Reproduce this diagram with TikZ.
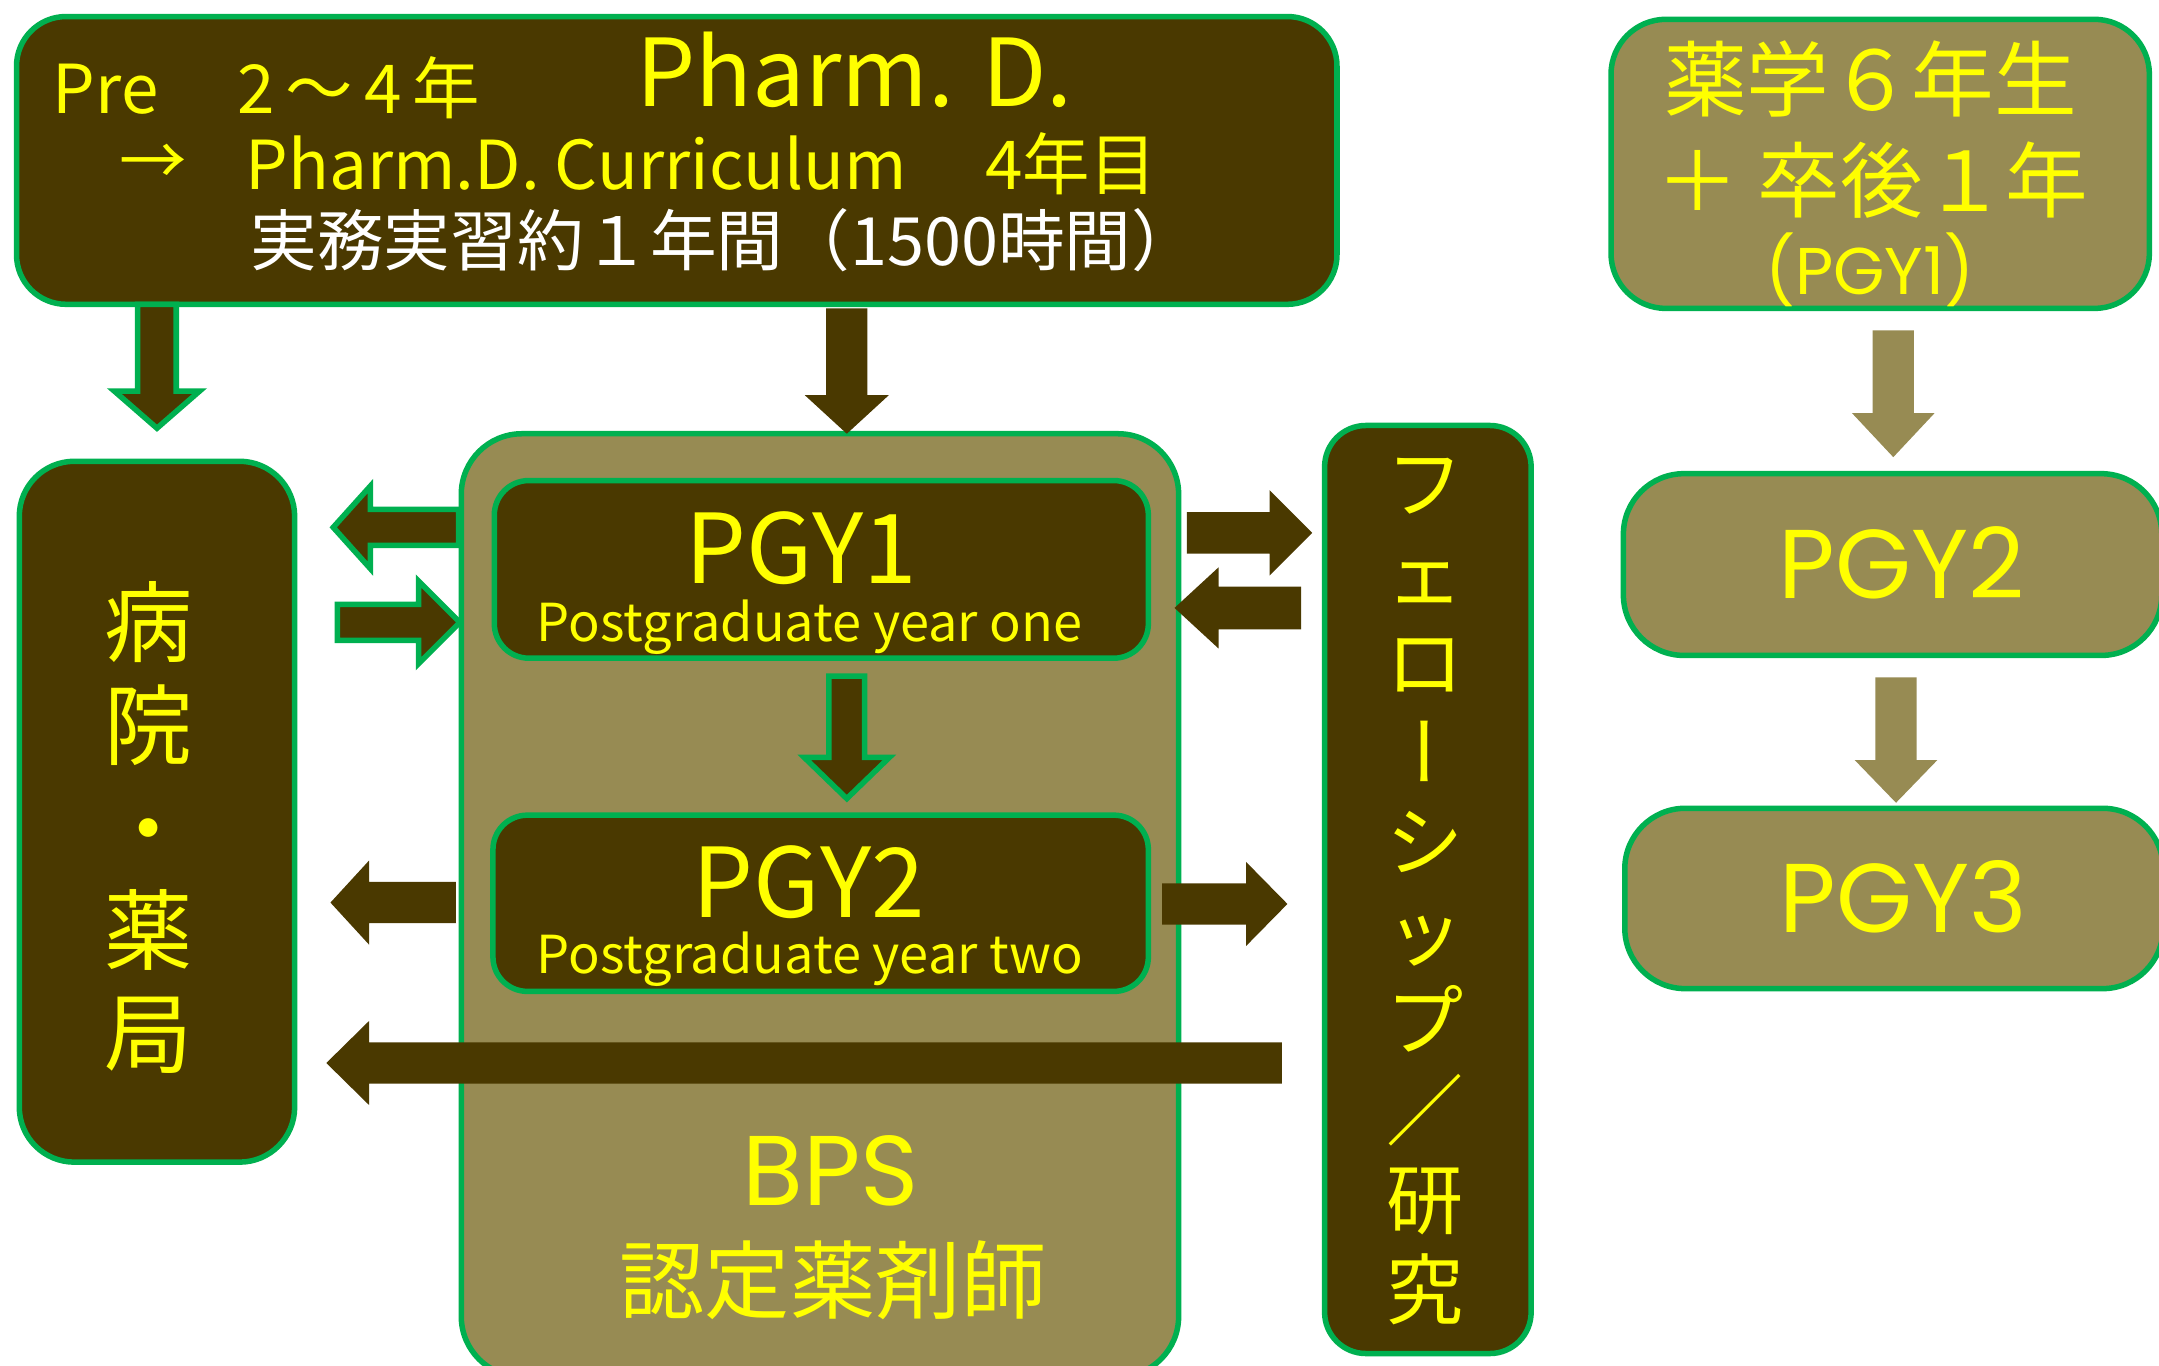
\documentclass[tikz,border=0pt]{standalone}
\usepackage{fontspec}
\setmainfont{Noto Sans CJK JP}
\newfontfamily\geo{Poppins}
\newfontfamily\vfont[RawFeature=+vert]{Noto Sans CJK JP}
\usetikzlibrary{calc}
\definecolor{dk}{HTML}{4A3900}
\definecolor{ol}{HTML}{978B53}
\definecolor{gr}{HTML}{00B050}
\definecolor{ye}{HTML}{FFFF00}
\newcommand\blockarrow[6]{%
  \coordinate (#2n) at ($(#3)!#6!(#2)$);
  \path[#1] ($(#2)!#4!90:(#3)$) -- ($(#2n)!#4!90:(#3)$) -- ($(#2n)!#5!90:(#3)$) -- (#3)
    -- ($(#2n)!#5!-90:(#3)$) -- ($(#2n)!#4!-90:(#3)$) -- ($(#2)!#4!-90:(#3)$) -- cycle;}
\tikzset{
  dkbox/.style={draw=gr, line width=2pt, fill=dk, inner sep=0pt},
  olbox/.style={draw=gr, line width=2pt, fill=ol, inner sep=0pt},
  txt/.style={text=ye, inner sep=0pt},
  arrB/.style={fill=dk, draw=gr, line width=2pt, line join=miter},
  arrD/.style={fill=dk},
  arrO/.style={fill=ol},
  fs/.style={font=\fontsize{#1}{#1}\selectfont}
}
\begin{document}
\begin{tikzpicture}[x=0.5pt,y=-0.5pt]
\useasboundingbox (0,0) rectangle (1568,992);
\clip (0,0) rectangle (1568,992);
\fill[white] (0,0) rectangle (1568,992);

% boxes
\node[dkbox, rounded corners=18pt, minimum width=479.5pt, minimum height=104.5pt] (top) at (491.5,116.5) {};
\node[olbox, rounded corners=20pt, minimum width=195.5pt, minimum height=105pt] (rtop) at (1365.5,119) {};
\node[olbox, rounded corners=22pt, minimum width=195.5pt, minimum height=66pt] (rpgy2) at (1374.5,410) {};
\node[olbox, rounded corners=22pt, minimum width=195.5pt, minimum height=65.5pt] (rpgy3) at (1375.5,652.5) {};
\node[dkbox, rounded corners=20pt, minimum width=100pt, minimum height=254.5pt] (lft) at (114,589.5) {};
\node[olbox, rounded corners=22pt, minimum width=260.5pt, minimum height=342.5pt] (bps) at (595.5,657.5) {};
\node[dkbox, rounded corners=12.5pt, minimum width=237.5pt, minimum height=64.5pt] (pgy1) at (596.5,413.5) {};
\node[dkbox, rounded corners=12.5pt, minimum width=238pt, minimum height=64pt] (pgy2) at (596,656) {};
\node[dkbox, rounded corners=15pt, minimum width=75pt, minimum height=337pt] (fel) at (1037,646) {};

% arrow end points
\coordinate (a1t) at (114,221);   \coordinate (a1h) at (114,311);
\coordinate (a2t) at (615,224);   \coordinate (a2h) at (615,315);
\coordinate (a3t) at (615,491);   \coordinate (a3h) at (615,580);
\coordinate (a4t) at (333,383);   \coordinate (a4h) at (242,383);
\coordinate (a5t) at (245,452);   \coordinate (a5h) at (334,452);
\coordinate (a6t) at (331,655.5); \coordinate (a6h) at (240,655.5);
\coordinate (a7t) at (931,772);   \coordinate (a7h) at (237,772);
\coordinate (a8t) at (862,387);   \coordinate (a8h) at (953,387);
\coordinate (a9t) at (945,441.5); \coordinate (a9h) at (853,441.5);
\coordinate (a10t) at (844,656.5); \coordinate (a10h) at (935,656.5);
\coordinate (a11t) at (1375,240); \coordinate (a11h) at (1375,332);
\coordinate (a12t) at (1377,492); \coordinate (a12h) at (1377,583);

\blockarrow{arrB}{a1t}{a1h}{7pt}{15.5pt}{13.5pt}
\blockarrow{arrD}{a2t}{a2h}{7.5pt}{15.25pt}{14pt}
\blockarrow{arrB}{a3t}{a3h}{6.5pt}{15.5pt}{15pt}
\blockarrow{arrB}{a4t}{a4h}{6.5pt}{15pt}{13.5pt}
\blockarrow{arrB}{a5t}{a5h}{6.5pt}{15pt}{15pt}
\blockarrow{arrD}{a6t}{a6h}{7.5pt}{15.25pt}{14pt}
\blockarrow{arrD}{a7t}{a7h}{7.5pt}{15.25pt}{15.5pt}
\blockarrow{arrD}{a8t}{a8h}{7.5pt}{15.5pt}{15.5pt}
\blockarrow{arrD}{a9t}{a9h}{7.75pt}{14.75pt}{16pt}
\blockarrow{arrD}{a10t}{a10h}{7.5pt}{15.25pt}{15pt}
\blockarrow{arrO}{a11t}{a11h}{7.5pt}{15pt}{16pt}
\blockarrow{arrO}{a12t}{a12h}{7.5pt}{15pt}{15.5pt}

% top box text
\node[txt, fs=24.5, anchor=base west] (tpre) at (38,82.6) {Pre};
\node[txt, fs=24.5, anchor=base west] (tyrs) at (172,82.6) {2\hspace{4pt}～\hspace{4pt}4\hspace{4pt}年};
\node[txt, fs=34, anchor=base west] (tphd) at (462,77.3) {Pharm. D.};
\node[txt, fs=24.5] (tarr) at (111,120) {→};
\node[txt, fs=24.5, anchor=base west] (tcur) at (178,137.9) {Pharm.D. Curriculum};
\node[txt, fs=24.5, anchor=base west] (tfour) at (715,137.9) {4年目};
\node[txt, fs=24.2, text=white] (tprac) at (526,174.5) {実務実習約１年間（1500時間）};

% right column text
\node[txt, fs=30] (r1) at (1358.5,57.5) {薬学６年生};
\node[txt, fs=30] (r2) at (1360,131) {＋ 卒後１年};
\node[txt, font=\geo\fontsize{24}{24}\selectfont] (r3) at (1358,195.6) {(PGY1)};
\node[txt, font=\geo\fontsize{35.5}{35.5}\selectfont] (r4) at (1381,409) {PGY2};
\node[txt, font=\geo\fontsize{35.5}{35.5}\selectfont] (r5) at (1382.5,651) {PGY3};

% left column
\node[txt, align=center, font=\fontsize{32}{37.25}\selectfont] (hosp) at (108,601) {病\\院\\・\\薬\\局};

% fellowship
\node[txt, align=center, font=\fontsize{28}{32.5}\selectfont] (felt) at (1035,647.5)
  {フ\\ェ\\ロ\\{\vfont ー}\\シ\\ッ\\プ\\／\\研\\究};

% center column
\node[txt, fs=35] (p1) at (582,398) {PGY1};
\node[txt, fs=19, anchor=base] (p1s) at (588,466) {Postgraduate year one};
\node[txt, fs=35] (p2) at (587.5,641) {PGY2};
\node[txt, fs=19, anchor=base] (p2s) at (588,707) {Postgraduate year two};
\node[txt, font=\geo\fontsize{36}{36}\selectfont] (bpst) at (603.5,850) {BPS};
\node[txt, fs=31] (bpsj) at (605,930) {認定薬剤師};
\end{tikzpicture}
\end{document}
